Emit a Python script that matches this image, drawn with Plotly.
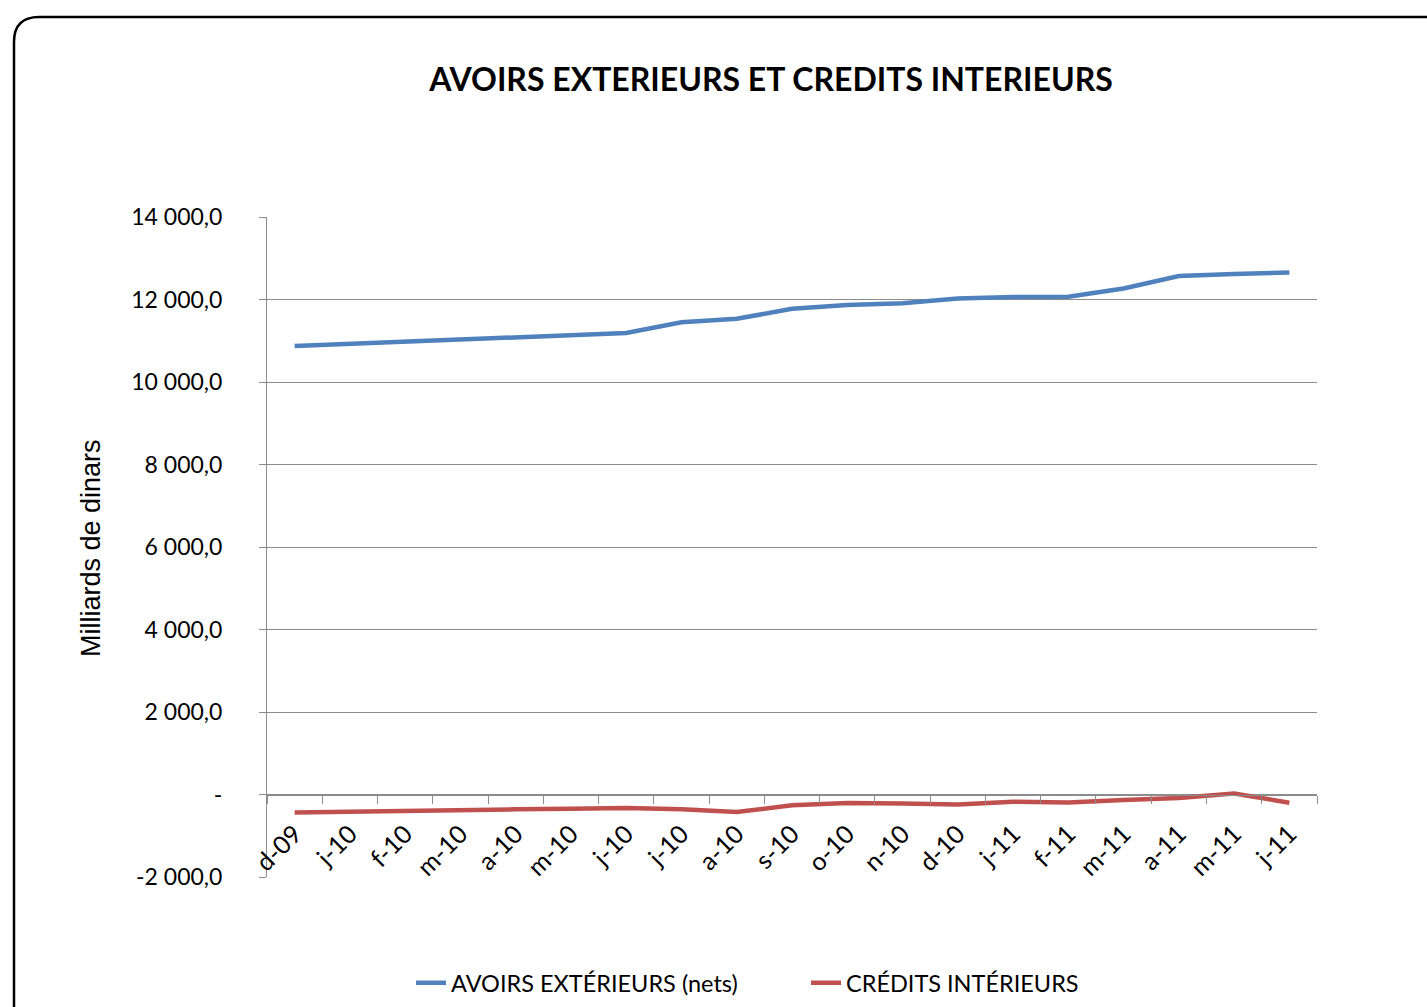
import plotly.graph_objects as go

categories = ["d-09", "j-10", "f-10", "m-10", "a-10", "m-10", "j-10", "j-10", "a-10", "s-10",
              "o-10", "n-10", "d-10", "j-11", "f-11", "m-11", "a-11", "m-11", "j-11"]
avoirs_exterieurs = [10871, 10924, 10977, 11030, 11083, 11136, 11189, 11448, 11532, 11774,
                     11866, 11908, 12025, 12059, 12067, 12268, 12569, 12619, 12652]
credits_interieurs = [-435, -410, -393, -376, -360, -343, -326, -360, -426, -259,
                      -209, -217, -242, -176, -192, -134, -84, 25, -200]
y_tickvals = [-2000, 0, 2000, 4000, 6000, 8000, 10000, 12000, 14000]
y_ticktext = ["-2 000,0", "-", "2 000,0", "4 000,0", "6 000,0", "8 000,0", "10 000,0", "12 000,0", "14 000,0"]

W, H = 1427, 1007
# plot area in page pixels
L, R, T, B = 267, 1317, 217, 877
pw, ph = R - L, B - T

def px(x):
    return (x - L) / pw

def py(y):
    return (B - y) / ph

idx = list(range(len(categories)))

fig = go.Figure()
fig.add_trace(go.Scatter(x=idx, y=avoirs_exterieurs, mode="lines", name="AVOIRS EXTÉRIEURS (nets)",
                         line=dict(color="#4F81BD", width=4.5)))
fig.add_trace(go.Scatter(x=idx, y=credits_interieurs, mode="lines", name="CRÉDITS INTÉRIEURS",
                         line=dict(color="#C0504D", width=4.5)))

grid = "#8c8c8c"
zero_pos = (0 - (-2000)) / 16000

fig.update_layout(
    width=W, height=H,
    margin=dict(l=L, r=W - R, t=T, b=H - B, pad=0, autoexpand=False),
    paper_bgcolor="white", plot_bgcolor="white",
    title=dict(text="<b>AVOIRS EXTERIEURS ET CREDITS INTERIEURS</b>", x=771 / W, xanchor="center",
               y=1 - 80 / H, yanchor="middle", xref="container", yref="container",
               font=dict(family="Lato", size=32, color="black")),
    xaxis=dict(range=[-0.5, len(categories) - 0.5], tickmode="array", tickvals=idx, ticktext=categories,
               tickangle=-45, ticks="", showgrid=False, showline=True, linecolor=grid, linewidth=1,
               anchor="free", position=zero_pos, zeroline=False, ticklabelstandoff=14, automargin=False,
               tickfont=dict(family="Lato", size=25, color="black"),
               minor=dict(tickmode="array", tickvals=[i - 0.5 for i in range(len(categories) + 1)],
                          ticks="outside", ticklen=8, tickcolor=grid, tickwidth=1, showgrid=False)),
    yaxis=dict(range=[-2000, 14000], tickmode="array", tickvals=y_tickvals, ticktext=y_ticktext,
               showgrid=True, gridcolor=grid, gridwidth=1, showline=True, linecolor=grid, linewidth=1,
               ticks="outside", ticklen=7, tickcolor=grid, zeroline=False, automargin=False,
               ticklabelstandoff=32,
               tickfont=dict(family="Lato", size=23, color="black")),
    showlegend=True,
    legend=dict(orientation="h", xref="container", yref="container",
                x=411 / W, xanchor="left", y=1 - 983 / H, yanchor="middle",
                font=dict(family="Lato", size=23.5, color="black"), entrywidth=350,
                bgcolor="rgba(0,0,0,0)"),
    annotations=[dict(text="Milliards de dinars", textangle=-90, x=px(91), y=py(548), xref="paper",
                      yref="paper", showarrow=False, xanchor="center", yanchor="middle",
                      font=dict(family="Liberation Sans", size=27, color="black"))],
)

# rounded chart-area border
x0, yt = px(14), py(17)
xr, yb = px(1440), py(1020)
rx, ry = 25 / pw, 25 / ph
path = (f"M {x0} {yb} L {x0} {yt - ry} Q {x0} {yt} {x0 + rx} {yt} L {xr} {yt}")
fig.add_shape(type="path", path=path, xref="paper", yref="paper",
              line=dict(color="black", width=2.5), layer="below")

fig.write_html("out.html", config={"displayModeBar": False},
               post_script="document.body.style.margin='0';document.body.style.overflow='hidden';")
